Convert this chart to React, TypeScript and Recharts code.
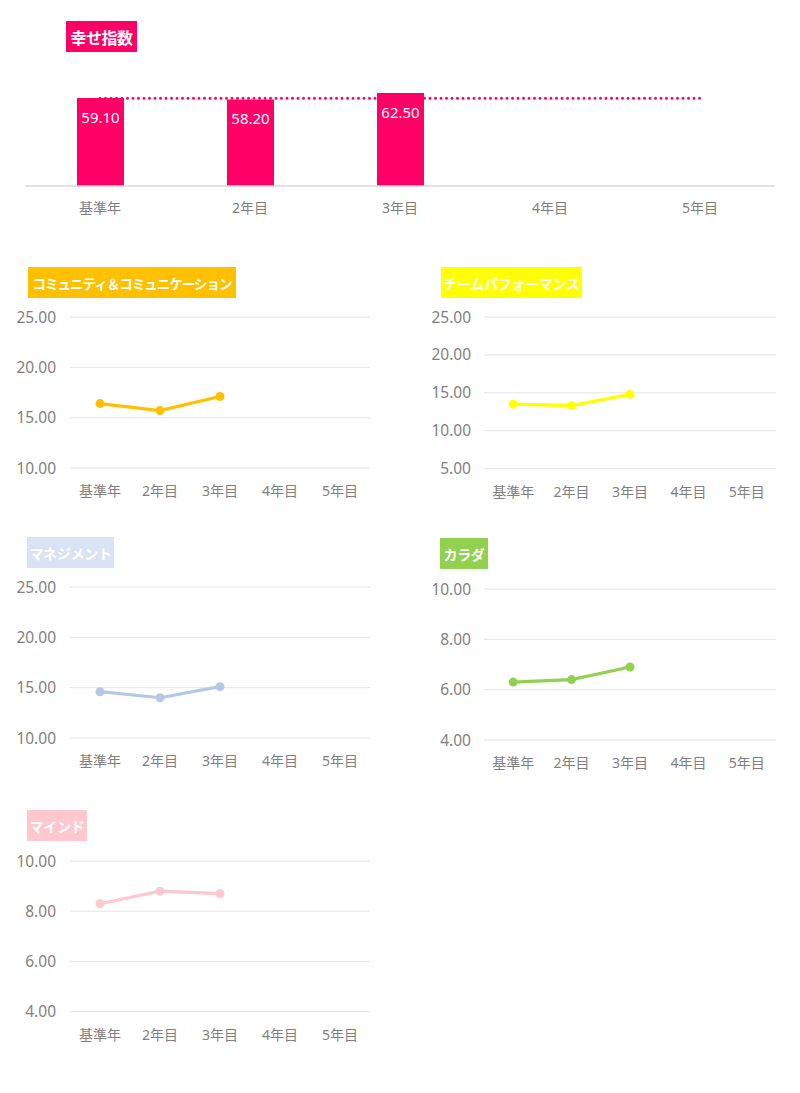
import { ComposedChart, LineChart, Bar, Line, XAxis, YAxis, CartesianGrid, LabelList } from 'recharts';

const categories = ['基準年', '2年目', '3年目', '4年目', '5年目'];

const happiness = [59.1, 58.2, 62.5, null, null];
const happinessAvg = [59.0, 59.0, 59.0, 59.0, 59.0];

const community = [16.4, 15.7, 17.1, null, null];
const team = [13.5, 13.3, 14.8, null, null];
const management = [14.6, 14.0, 15.1, null, null];
const karada = [6.3, 6.4, 6.9, null, null];
const mind = [8.3, 8.8, 8.7, null, null];

const ticks25from10 = [10, 15, 20, 25];
const ticks25from5 = [5, 10, 15, 20, 25];
const ticks10from4 = [4, 6, 8, 10];

const FONT = "'Noto Sans', 'Noto Sans CJK JP', sans-serif";
const TICK_GRAY = '#7f7f7f';

const topData = categories.map((name, i) => ({ name, score: happiness[i], avg: happinessAvg[i] }));

function Title({ text, left, top, width, bg, fontSize = 14, spacing = -0.3 }: {
  text: string; left: number; top: number; width: number; bg: string; fontSize?: number; spacing?: number;
}) {
  return (
    <div
      style={{
        position: 'absolute', left, top, width, height: 31, background: bg, color: '#fff',
        fontWeight: 700, fontSize, letterSpacing: spacing, display: 'flex', alignItems: 'center',
        justifyContent: 'center', whiteSpace: 'nowrap', overflow: 'hidden',
      }}
    >
      {text}
    </div>
  );
}

interface SmallChartProps {
  values: (number | null)[];
  color: string;
  ticks: number[];
  left: number;
  plotTop: number;
  plotHeight: number;
  axisWidth: number;
  plotWidth: number;
  tickMargin: number;
}

function SmallChart({ values, color, ticks, left, plotTop, plotHeight, axisWidth, plotWidth, tickMargin }: SmallChartProps) {
  const data = categories.map((name, i) => ({ name, score: values[i] }));
  const top = 10;
  const pad = plotWidth / categories.length / 2;
  return (
    <div style={{ position: 'absolute', left, top: plotTop - top }}>
      <LineChart
        width={axisWidth + plotWidth + 10}
        height={top + plotHeight + 40}
        data={data}
        margin={{ top, right: 10, left: 0, bottom: 0 }}
      >
        <CartesianGrid vertical={false} stroke="#e4e4e4" />
        <XAxis
          dataKey="name"
          axisLine={false}
          tickLine={false}
          tickMargin={12}
          height={40}
          padding={{ left: pad, right: pad }}
          tick={{ fill: TICK_GRAY, fontSize: 14 }}
          interval={0}
        />
        <YAxis
          width={axisWidth}
          domain={[ticks[0], ticks[ticks.length - 1]]}
          ticks={ticks}
          axisLine={false}
          tickLine={false}
          tickMargin={tickMargin}
          tick={{ fill: TICK_GRAY, fontSize: 15.5 }}
          tickFormatter={(v: number) => v.toFixed(2)}
        />
        <Line
          dataKey="score"
          stroke={color}
          strokeWidth={3.2}
          dot={{ r: 4.5, fill: color, stroke: color, strokeWidth: 0 }}
          activeDot={false}
          isAnimationActive={false}
        />
      </LineChart>
    </div>
  );
}

export default function App() {
  return (
    <div style={{ position: 'relative', width: 800, height: 1093, margin: -8, background: '#fff', fontFamily: FONT }}>
      <div style={{ position: 'absolute', left: 0, top: 0 }}>
        <ComposedChart width={800} height={230} data={topData} margin={{ top: 67, right: 25, left: 25, bottom: 0 }}>
          <XAxis
            dataKey="name"
            axisLine={{ stroke: '#d9d9d9', strokeWidth: 1.5 }}
            tickLine={false}
            tickMargin={11}
            height={44}
            tick={{ fill: TICK_GRAY, fontSize: 14 }}
            interval={0}
          />
          <YAxis hide domain={[0, 80]} />
          <Bar dataKey="score" fill="#FF0066" barSize={47} isAnimationActive={false}>
            <LabelList
              dataKey="score"
              position="insideTop"
              offset={14}
              fill="#fff"
              fontSize={15}
              formatter={(v: unknown) => (v == null ? '' : Number(v).toFixed(2))}
            />
          </Bar>
          <Line
            dataKey="avg"
            stroke="#FF0066"
            strokeWidth={3}
            strokeDasharray="0 5.5"
            strokeLinecap="round"
            dot={false}
            activeDot={false}
            isAnimationActive={false}
          />
        </ComposedChart>
      </div>
      <Title text="幸せ指数" left={66} top={21} width={71} bg="#FF0066" fontSize={16} spacing={-0.5} />

      <SmallChart values={community} color="#FFC000" ticks={ticks25from10} left={0} plotTop={317.3} plotHeight={151} axisWidth={70} plotWidth={300} tickMargin={8} />
      <Title text="コミュニティ＆コミュニケーション" left={28} top={267} width={208} bg="#FFC000" fontSize={13.5} spacing={-1} />

      <SmallChart values={team} color="#FFFF00" ticks={ticks25from5} left={400} plotTop={316.7} plotHeight={151.6} axisWidth={84} plotWidth={292} tickMargin={7} />
      <Title text="チームパフォーマンス" left={441} top={267} width={141} bg="#FFFF00" />

      <SmallChart values={management} color="#B4C7E7" ticks={ticks25from10} left={0} plotTop={587.3} plotHeight={151} axisWidth={70} plotWidth={300} tickMargin={8} />
      <Title text="マネジメント" left={27} top={537} width={87} bg="#DAE3F3" />

      <SmallChart values={karada} color="#92D050" ticks={ticks10from4} left={400} plotTop={589} plotHeight={151} axisWidth={84} plotWidth={292} tickMargin={7} />
      <Title text="カラダ" left={440} top={538} width={48} bg="#92D050" />

      <SmallChart values={mind} color="#FFC7CE" ticks={ticks10from4} left={0} plotTop={861.3} plotHeight={150.7} axisWidth={70} plotWidth={300} tickMargin={8} />
      <Title text="マインド" left={27} top={810} width={60} bg="#FFC7CE" />
    </div>
  );
}
